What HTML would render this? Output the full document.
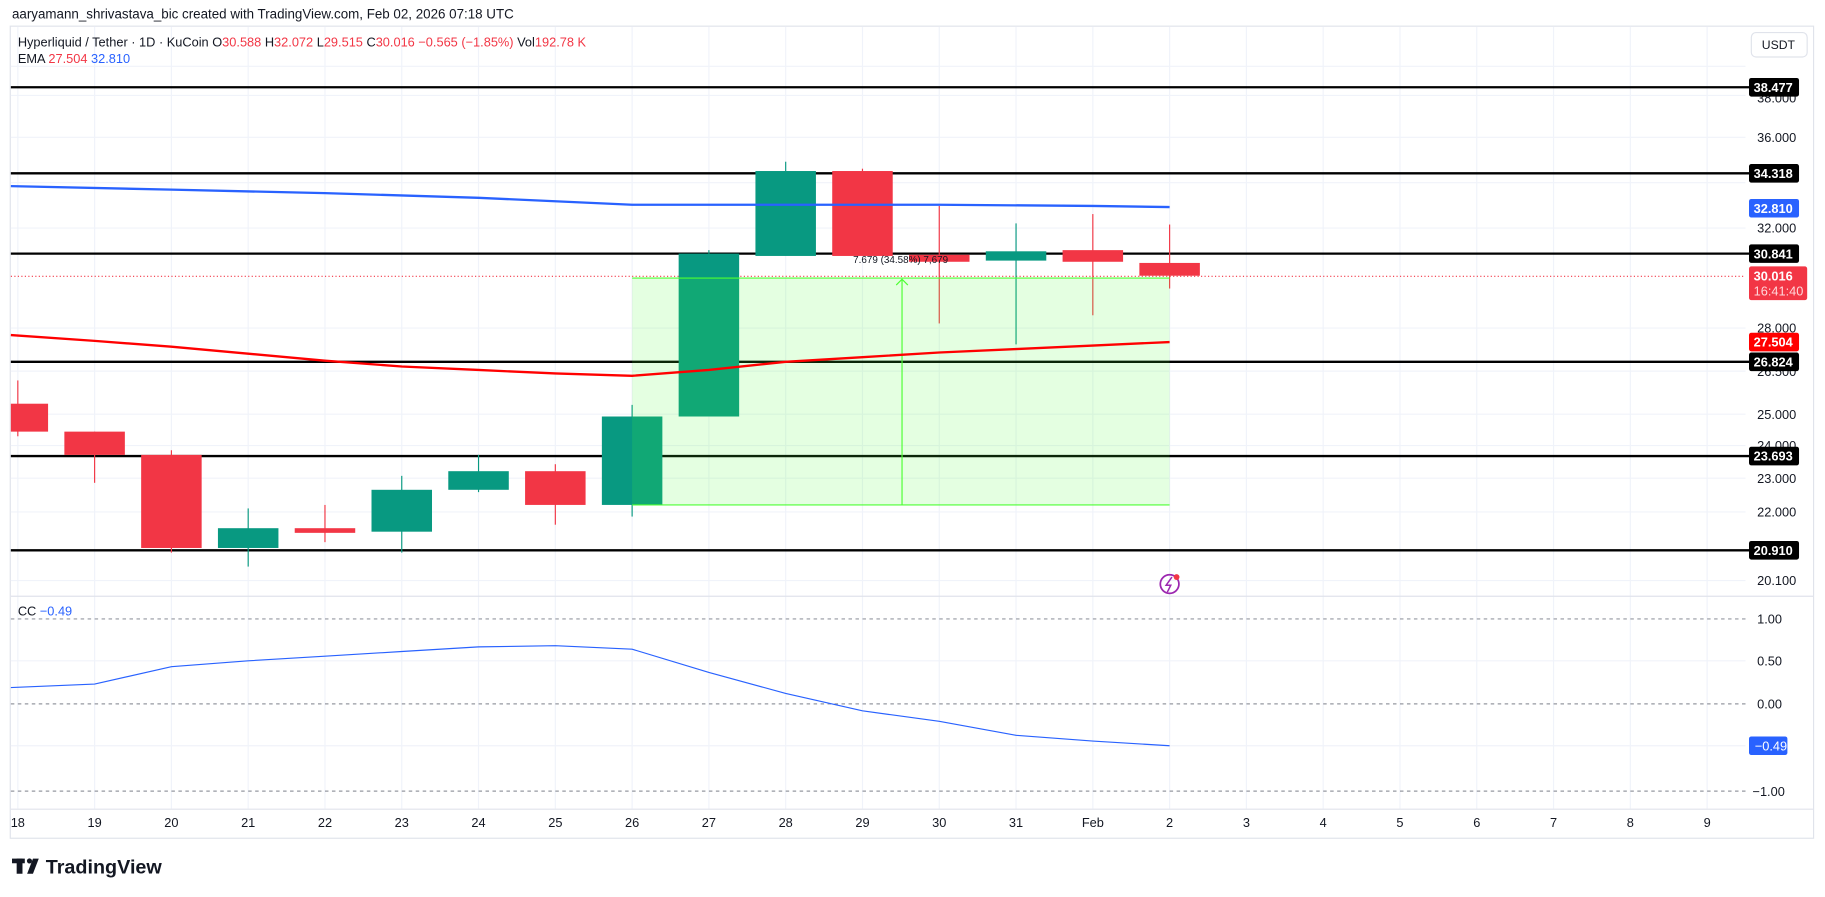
<!DOCTYPE html>
<html><head><meta charset="utf-8"><style>
html,body{margin:0;padding:0;background:#fff;}
svg{display:block;}
text{font-family:"Liberation Sans",sans-serif;}
</style></head><body>
<svg width="1825" height="897" viewBox="0 0 1568 771" xmlns="http://www.w3.org/2000/svg">
<rect width="1568" height="771" fill="#fff"/>
<text x="10" y="16" font-size="11.5" fill="#131722">aaryamann_shrivastava_bic created with TradingView.com, Feb 02, 2026 07:18 UTC</text>
<rect x="8.5" y="22.5" width="1550" height="698" fill="none" stroke="#e0e3eb"/>
<g stroke="#f0f3fa" stroke-width="1">
<line x1="15" y1="23" x2="15" y2="695"/><line x1="81" y1="23" x2="81" y2="695"/><line x1="147" y1="23" x2="147" y2="695"/><line x1="213" y1="23" x2="213" y2="695"/><line x1="279" y1="23" x2="279" y2="695"/><line x1="345" y1="23" x2="345" y2="695"/><line x1="411" y1="23" x2="411" y2="695"/><line x1="477" y1="23" x2="477" y2="695"/><line x1="543" y1="23" x2="543" y2="695"/><line x1="609" y1="23" x2="609" y2="695"/><line x1="675" y1="23" x2="675" y2="695"/><line x1="741" y1="23" x2="741" y2="695"/><line x1="807" y1="23" x2="807" y2="695"/><line x1="873" y1="23" x2="873" y2="695"/><line x1="939" y1="23" x2="939" y2="695"/><line x1="1005" y1="23" x2="1005" y2="695"/><line x1="1071" y1="23" x2="1071" y2="695"/><line x1="1137" y1="23" x2="1137" y2="695"/><line x1="1203" y1="23" x2="1203" y2="695"/><line x1="1269" y1="23" x2="1269" y2="695"/><line x1="1335" y1="23" x2="1335" y2="695"/><line x1="1401" y1="23" x2="1401" y2="695"/><line x1="1467" y1="23" x2="1467" y2="695"/>
<line x1="9" y1="57" x2="1500" y2="57"/><line x1="9" y1="82" x2="1500" y2="82"/><line x1="9" y1="118" x2="1500" y2="118"/><line x1="9" y1="157" x2="1500" y2="157"/><line x1="9" y1="196" x2="1500" y2="196"/><line x1="9" y1="282" x2="1500" y2="282"/><line x1="9" y1="319" x2="1500" y2="319"/><line x1="9" y1="356" x2="1500" y2="356"/><line x1="9" y1="383" x2="1500" y2="383"/><line x1="9" y1="411" x2="1500" y2="411"/><line x1="9" y1="440" x2="1500" y2="440"/><line x1="9" y1="499" x2="1500" y2="499"/>
<line x1="9" y1="568" x2="1500" y2="568"/><line x1="9" y1="641" x2="1500" y2="641"/>
</g>
<line x1="9" y1="512.5" x2="1558" y2="512.5" stroke="#e0e3eb"/>
<line x1="9" y1="695.5" x2="1558" y2="695.5" stroke="#e0e3eb"/>
<text x="15" y="40" font-size="11" fill="#131722">Hyperliquid / Tether · 1D · KuCoin  O<tspan fill="#F23645">30.588</tspan>  H<tspan fill="#F23645">32.072</tspan>  L<tspan fill="#F23645">29.515</tspan>  C<tspan fill="#F23645">30.016  −0.565 (−1.85%)</tspan>  Vol<tspan fill="#F23645">192.78 K</tspan></text>
<text x="15" y="54" font-size="11" fill="#131722">EMA  <tspan fill="#F23645">27.504</tspan>  <tspan fill="#2962FF">32.810</tspan></text>
<line x1="9" y1="237.5" x2="1500" y2="237.5" stroke="#F23645" stroke-dasharray="1,2"/>
<g stroke="#000" stroke-width="2">
<line x1="9" y1="75" x2="1503" y2="75"/><line x1="9" y1="149" x2="1503" y2="149"/><line x1="9" y1="218" x2="1503" y2="218"/><line x1="9" y1="311" x2="1503" y2="311"/><line x1="9" y1="392" x2="1503" y2="392"/><line x1="9" y1="473" x2="1503" y2="473"/>
</g>
<g stroke-width="1">
<g fill="#F23645" stroke="#F23645">
<line x1="15" y1="327" x2="15" y2="375"/><rect x="9" y="347" width="32" height="24" stroke="none"/>
<line x1="81" y1="371" x2="81" y2="415"/><rect x="55" y="371" width="52" height="20" stroke="none"/>
<line x1="147" y1="387" x2="147" y2="475"/><rect x="121" y="391" width="52" height="80" stroke="none"/>
<line x1="279" y1="434" x2="279" y2="466"/><rect x="253" y="454" width="52" height="4" stroke="none"/>
<line x1="477" y1="399" x2="477" y2="451"/><rect x="451" y="405" width="52" height="29" stroke="none"/>
<line x1="741" y1="145" x2="741" y2="147"/><rect x="715" y="147" width="52" height="73" stroke="none"/>
<line x1="807" y1="177" x2="807" y2="278"/><rect x="781" y="219" width="52" height="6" stroke="none"/>
<line x1="939" y1="184" x2="939" y2="271"/><rect x="913" y="215" width="52" height="10" stroke="none"/>
<line x1="1005" y1="193" x2="1005" y2="248"/><rect x="979" y="226" width="52" height="11" stroke="none"/>
</g>
<g fill="#089981" stroke="#089981">
<line x1="213" y1="437" x2="213" y2="487"/><rect x="187" y="454" width="52" height="17" stroke="none"/>
<line x1="345" y1="409" x2="345" y2="475"/><rect x="319" y="421" width="52" height="36" stroke="none"/>
<line x1="411" y1="391" x2="411" y2="423"/><rect x="385" y="405" width="52" height="16" stroke="none"/>
<line x1="543" y1="348" x2="543" y2="444"/><rect x="517" y="358" width="52" height="76" stroke="none"/>
<line x1="609" y1="215" x2="609" y2="218"/><rect x="583" y="218" width="52" height="140" stroke="none"/>
<line x1="675" y1="139" x2="675" y2="147"/><rect x="649" y="147" width="52" height="73" stroke="none"/>
<line x1="873" y1="192" x2="873" y2="296"/><rect x="847" y="216" width="52" height="8" stroke="none"/>
</g>
</g>
<rect x="543" y="239" width="462" height="195" fill="#4cff33" fill-opacity="0.15"/>
<line x1="543" y1="239" x2="1005" y2="239" stroke="#4cff33" stroke-width="1"/>
<line x1="543" y1="434" x2="1005" y2="434" stroke="#4cff33" stroke-width="1"/>
<line x1="775" y1="434" x2="775" y2="240" stroke="#4cff33"/>
<polyline points="770,245 775,240 780,245" fill="none" stroke="#4cff33"/>
<text x="733" y="226" font-size="8.5" fill="#131722">7.679 (34.58%) 7,679</text>
<polyline points="9,160 147,163 279,166 411,170 543,176 675,176 807,176 939,177 1005,178" fill="none" stroke="#2962FF" stroke-width="2"/>
<polyline points="9,288 81,293 147,298 213,304 279,310 345,315 411,318 477,321 543,323 609,318 675,311 741,307 807,303 873,300 939,297 1005,294" fill="none" stroke="#FF0000" stroke-width="2"/>
<circle cx="1005" cy="502" r="8" fill="none" stroke="#9c27b0" stroke-width="1.5"/>
<path d="M1007,496 L1002,503 L1006,503 L1003,509" fill="none" stroke="#9c27b0" stroke-width="1.3"/>
<circle cx="1011" cy="496" r="2.5" fill="#F23645"/>
<g stroke="#9598a1" stroke-dasharray="3,3">
<line x1="9" y1="532" x2="1500" y2="532"/><line x1="9" y1="605" x2="1500" y2="605"/><line x1="9" y1="680" x2="1500" y2="680"/>
</g>
<text x="15" y="529" font-size="11" fill="#131722">CC  <tspan fill="#2962FF">−0.49</tspan></text>
<polyline points="9,591 81,588 147,573 213,568 279,564 345,560 411,556 477,555 543,558 609,578 675,596 741,611 807,620 873,632 939,637 1005,641" fill="none" stroke="#2962FF" stroke-width="1"/>
<g font-size="11" fill="#131722">
<text x="1510" y="122">36.000</text><text x="1510" y="200">32.000</text><text x="1510" y="286">28.000</text><text x="1510" y="360">25.000</text><text x="1510" y="387">24.000</text><text x="1510" y="415">23.000</text><text x="1510" y="444">22.000</text><text x="1510" y="503">20.100</text><text x="1510" y="88">38.000</text><text x="1510" y="323">26.500</text>
<text x="1510" y="536">1.00</text><text x="1510" y="572">0.50</text><text x="1510" y="609">0.00</text><text x="1506" y="684">−1.00</text>
</g>
<rect x="1505" y="28" width="48" height="21" rx="4" fill="#fff" stroke="#e0e3eb"/>
<text x="1514" y="42" font-size="10.5" fill="#131722">USDT</text>
<g font-size="11" font-weight="bold" fill="#fff">
<rect x="1503" y="67" width="43" height="16" rx="2" fill="#000"/><text x="1507" y="79">38.477</text>
<rect x="1503" y="141" width="43" height="16" rx="2" fill="#000"/><text x="1507" y="153">34.318</text>
<rect x="1503" y="171" width="43" height="16" rx="2" fill="#2962FF"/><text x="1507" y="183">32.810</text>
<rect x="1503" y="210" width="43" height="16" rx="2" fill="#000"/><text x="1507" y="222">30.841</text>
<rect x="1503" y="229" width="50" height="29" rx="2" fill="#F23645"/><text x="1507" y="241">30.016</text><text x="1507" y="254" font-weight="normal" fill="#ffd7da">16:41:40</text>
<rect x="1503" y="286" width="43" height="16" rx="2" fill="#FF0000"/><text x="1507" y="298">27.504</text>
<rect x="1503" y="303" width="43" height="16" rx="2" fill="#000"/><text x="1507" y="315">26.824</text>
<rect x="1503" y="384" width="43" height="16" rx="2" fill="#000"/><text x="1507" y="396">23.693</text>
<rect x="1503" y="465" width="43" height="16" rx="2" fill="#000"/><text x="1507" y="477">20.910</text>
<rect x="1503" y="633" width="33" height="16" rx="2" fill="#2962FF"/><text x="1508" y="645" font-weight="normal">−0.49</text>
</g>
<g font-size="11" fill="#131722" text-anchor="middle">
<text x="15" y="711">18</text><text x="81" y="711">19</text><text x="147" y="711">20</text><text x="213" y="711">21</text><text x="279" y="711">22</text><text x="345" y="711">23</text><text x="411" y="711">24</text><text x="477" y="711">25</text><text x="543" y="711">26</text><text x="609" y="711">27</text><text x="675" y="711">28</text><text x="741" y="711">29</text><text x="807" y="711">30</text><text x="873" y="711">31</text><text x="939" y="711">Feb</text><text x="1005" y="711">2</text><text x="1071" y="711">3</text><text x="1137" y="711">4</text><text x="1203" y="711">5</text><text x="1269" y="711">6</text><text x="1335" y="711">7</text><text x="1401" y="711">8</text><text x="1467" y="711">9</text>
</g>
<g fill="#131722">
<rect x="10" y="738" width="11" height="4"/><rect x="14" y="738" width="5" height="13"/>
<circle cx="25" cy="740" r="2.2"/><path d="M28,738 L33,738 L28,751 L23,751 Z"/>
</g>
<text x="39" y="751" font-size="17" font-weight="bold" fill="#131722">TradingView</text>
</svg>
</body></html>
